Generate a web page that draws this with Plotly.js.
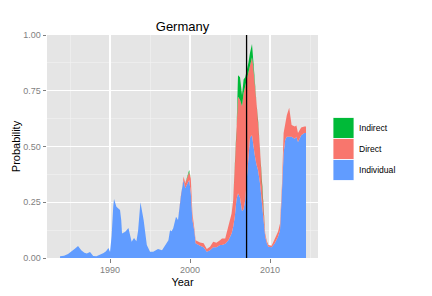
<!DOCTYPE html>
<html>
<head>
<meta charset="utf-8">
<script src="https://cdn.plot.ly/plotly-3.0.1.min.js"></script>
<style>html,body{margin:0;padding:0;background:#fff;}#chart{width:432px;height:296px;}</style>
</head>
<body>
<div id="chart"></div>
<script>
// ---- data ----
const years = [1983.75,1984.25,1984.75,1985.25,1985.6,1986.0,1986.4,1986.8,1987.1,1987.5,1987.9,1988.3,1988.8,1989.2,1989.5,1989.8,1990.0,1990.2,1990.4,1990.5,1990.8,1991.25,1991.4,1991.5,1991.9,1992.3,1992.7,1993.0,1993.3,1993.5,1993.8,1994.2,1994.6,1995.0,1995.4,1996.0,1996.5,1996.9,1997.3,1997.5,1997.7,1997.9,1998.25,1998.5,1998.9,1999.2,1999.4,1999.7,1999.9,2000.1,2000.3,2000.55,2000.7,2001.25,2001.7,2002.1,2002.5,2002.9,2003.3,2003.75,2004.0,2004.4,2004.8,2005.2,2005.4,2005.6,2005.8,2006.0,2006.25,2006.5,2006.7,2006.9,2007.1,2007.3,2007.5,2007.75,2007.9,2008.1,2008.3,2008.5,2008.75,2009.0,2009.2,2009.4,2009.6,2009.8,2010.2,2010.6,2011.0,2011.25,2011.5,2011.7,2011.9,2012.1,2012.4,2012.7,2013.1,2013.3,2013.5,2013.9,2014.3,2014.5];
const individual = [0.008,0.010,0.018,0.030,0.042,0.054,0.035,0.024,0.020,0.027,0.009,0.008,0.015,0.022,0.030,0.045,0.027,0.100,0.230,0.265,0.230,0.215,0.170,0.110,0.118,0.134,0.073,0.090,0.075,0.120,0.250,0.170,0.058,0.028,0.028,0.040,0.035,0.058,0.080,0.125,0.120,0.133,0.185,0.170,0.290,0.350,0.313,0.335,0.350,0.290,0.170,0.118,0.066,0.055,0.048,0.028,0.035,0.048,0.048,0.058,0.058,0.064,0.080,0.110,0.140,0.185,0.260,0.290,0.270,0.210,0.220,0.260,0.360,0.460,0.540,0.550,0.500,0.460,0.420,0.395,0.335,0.245,0.155,0.095,0.066,0.050,0.048,0.066,0.095,0.125,0.305,0.470,0.530,0.544,0.544,0.544,0.535,0.544,0.520,0.550,0.560,0.560];
const direct = [0,0,0,0,0,0,0,0,0,0,0,0,0,0,0,0,0,0,0,0,0,0,0,0,0,0,0,0,0,0,0,0,0,0,0,0,0,0,0,0,0,0,0,0,0,0.015,0.022,0.037,0.037,0.067,0.030,0.012,0.014,0.015,0.018,0.012,0.015,0.025,0.020,0.022,0.030,0.024,0.060,0.090,0.120,0.210,0.284,0.433,0.440,0.470,0.520,0.510,0.440,0.370,0.330,0.350,0.360,0.320,0.300,0.225,0.150,0.075,0.030,0.015,0.010,0.008,0.007,0.022,0.023,0.030,0.030,0.090,0.074,0.096,0.130,0.052,0.055,0.050,0.040,0.035,0.030,0.030];
const indirect = [0,0,0,0,0,0,0,0,0,0,0,0,0,0,0,0,0,0,0,0,0,0,0,0,0,0,0,0,0,0,0,0,0,0,0,0,0,0,0,0,0,0,0,0,0,0,0,0,0.008,0,0,0,0,0,0,0,0,0,0,0,0,0,0,0,0,0,0.010,0.097,0.100,0.050,0.060,0.040,0.040,0.045,0.050,0.060,0.030,0.020,0.010,0.010,0.005,0,0,0,0,0,0,0,0,0,0,0,0,0,0,0,0,0,0,0,0,0];
const seriesNames = ["Individual","Direct","Indirect"];
const eventYear = 2007.07;
const yTicks = [0, 0.25, 0.5, 0.75, 1.0];
const xTicks = [1990, 2000, 2010];

// ---- styling ----
const colors = {Individual:"#619CFF", Direct:"#F8766D", Indirect:"#00BA38"};
const FONT = "Liberation Sans, Arial, Helvetica, sans-serif";
const W = 432, H = 296;
const P = {l:47, r:318, t:35, b:258};

const seriesData = {Individual: individual, Direct: direct, Indirect: indirect};
const traces = seriesNames.map(n => ({
  type: "scatter", mode: "lines", x: years, y: seriesData[n], name: n,
  stackgroup: "one", line: {width: 0, color: colors[n]}, fillcolor: colors[n],
  showlegend: false, hoverinfo: "x+y+name"
}));

// manual ggplot-style legend (order: Indirect, Direct, Individual)
const px2x = v => (v - P.l) / (P.r - P.l);
const px2y = v => (P.b - v) / (P.b - P.t);
const legendOrder = ["Indirect","Direct","Individual"];
const keyX0 = 333, keyX1 = 354, keyTop = 117.5, keyH = 21;
const shapes = [{
  type: "line", xref: "x", yref: "paper", x0: eventYear, x1: eventYear, y0: 0, y1: 1,
  line: {color: "#000000", width: 1.3}
}];
const annotations = [];
legendOrder.forEach((n, i) => {
  const top = keyTop + i * keyH;
  shapes.push({type: "rect", xref: "paper", yref: "paper",
    x0: px2x(keyX0), x1: px2x(keyX1), y0: px2y(top + keyH), y1: px2y(top),
    fillcolor: colors[n], line: {color: "#ffffff", width: 0.8}});
  annotations.push({xref: "paper", yref: "paper", x: px2x(keyX1 + 2.5), y: px2y(top + keyH / 2),
    xanchor: "left", yanchor: "middle", showarrow: false, text: n,
    font: {family: FONT, size: 8.6, color: "#000000"}});
});

const layout = {
  width: W, height: H,
  margin: {l: P.l, r: W - P.r, t: P.t, b: H - P.b, pad: 0},
  paper_bgcolor: "#ffffff", plot_bgcolor: "#E5E5E5",
  font: {family: FONT, color: "#000000"},
  showlegend: false,
  title: {text: "Germany", font: {family: FONT, size: 13, color: "#000000"},
    x: 0.5, xref: "paper", xanchor: "center", y: 1 - 26 / H, yref: "container", yanchor: "middle"},
  xaxis: {
    range: [1982.12, 2016.0], tickmode: "array", tickvals: xTicks, ticktext: xTicks.map(String),
    showgrid: true, gridcolor: "#ffffff", gridwidth: 1.1, zeroline: false, showline: false,
    ticks: "outside", ticklen: 3.5, tickwidth: 1, tickcolor: "#7F7F7F",
    tickfont: {family: FONT, size: 9, color: "#7F7F7F"},
    minor: {tickmode: "array", tickvals: [1985, 1995, 2005, 2015], showgrid: true, gridcolor: "#F2F2F2", gridwidth: 0.6, ticks: ""},
    title: {text: "Year", font: {family: FONT, size: 11, color: "#000000"}, standoff: 4},
    fixedrange: true, automargin: false, layer: "below traces"
  },
  yaxis: {
    range: [0, 1], tickmode: "array", tickvals: yTicks, ticktext: yTicks.map(v => v.toFixed(2)),
    showgrid: true, gridcolor: "#ffffff", gridwidth: 1.1, zeroline: false, showline: false,
    ticks: "outside", ticklen: 3.5, tickwidth: 1, tickcolor: "#7F7F7F",
    tickfont: {family: FONT, size: 9, color: "#7F7F7F"},
    minor: {tickmode: "array", tickvals: [0.125, 0.375, 0.625, 0.875], showgrid: true, gridcolor: "#F2F2F2", gridwidth: 0.6, ticks: ""},
    title: {text: "Probability", font: {family: FONT, size: 11, color: "#000000"}, standoff: 0},
    fixedrange: true, automargin: false
  },
  shapes: shapes,
  annotations: annotations
};

Plotly.newPlot("chart", traces, layout, {staticPlot: true, displayModeBar: false});
</script>
</body>
</html>
